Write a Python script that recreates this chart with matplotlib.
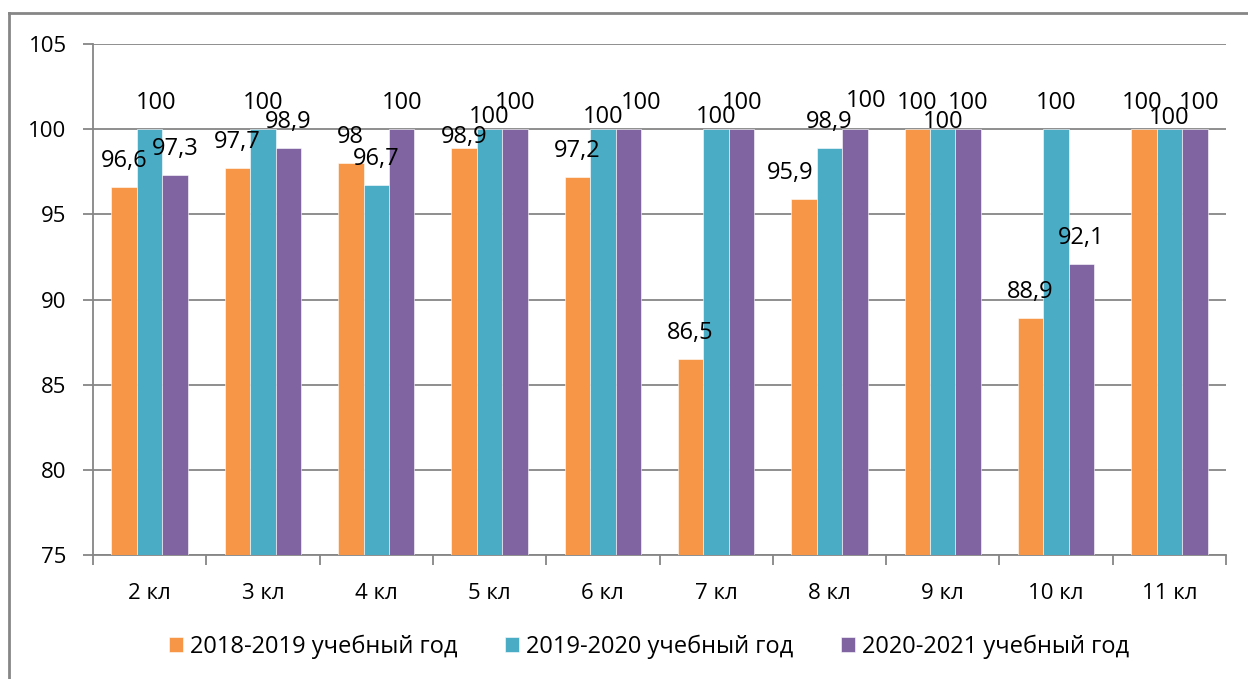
import matplotlib.pyplot as plt
import numpy as np
from matplotlib.lines import Line2D

plt.rcParams['font.family'] = ['Open Sans', 'DejaVu Sans']

# данные
classes = ['2 кл', '3 кл', '4 кл', '5 кл', '6 кл', '7 кл', '8 кл', '9 кл', '10 кл', '11 кл']
years = ['2018-2019 учебный год', '2019-2020 учебный год', '2020-2021 учебный год']
y2018 = [96.6, 97.7, 98.0, 98.9, 97.2, 86.5, 95.9, 100, 88.9, 100]
y2019 = [100, 100, 96.7, 100, 100, 100, 98.9, 100, 100, 100]
y2020 = [97.3, 98.9, 100, 100, 100, 100, 100, 100, 92.1, 100]

colors = ['#F79646', '#4BACC6', '#8064A2']
grid_col = '#868686'

# сдвиги подписей (пиксели), как в исходной диаграмме
label_shift = {
    (0, 3): (0, -15), (1, 3): (0, -14),
    (1, 4): (0, -14), (2, 4): (13, 0),
    (1, 5): (0, -14),
    (0, 6): (-14, 0), (2, 6): (11, 2),
    (1, 7): (0, -19),
    (0, 9): (-2, 0), (1, 9): (0, -15), (2, 9): (4, 0),
    (1, 0): (6, 0),
}

fig = plt.figure(figsize=(12.48, 6.79), dpi=100)
ax = fig.add_axes([93 / 1248, 1 - 555 / 679, (1226 - 93) / 1248, (555 - 44) / 679])

x = np.arange(len(classes))
w = 0.225
series = [y2018, y2019, y2020]
for k, vals in enumerate(series):
    pos = x + (k - 1) * w
    ax.bar(pos, np.array(vals) - 75, bottom=75, width=w, color=colors[k],
           edgecolor='white', linewidth=0.4, label=years[k], zorder=3)
    for i, v in enumerate(vals):
        dx, dy = label_shift.get((k, i), (0, 0))
        txt = f'{v:g}'.replace('.', ',')
        ax.annotate(txt, (pos[i], v), xytext=(dx, 26 + dy), textcoords='offset pixels',
                    ha='center', va='center', fontsize=17, zorder=4)

ax.set_xlim(-0.5, len(classes) - 0.5)
ax.set_ylim(75, 105)
ax.set_yticks(np.arange(75, 106, 5))
ax.yaxis.grid(True, color=grid_col, linewidth=1.3, zorder=0)

ax.set_xticks(x)
ax.set_xticklabels(classes)
ax.set_xticks(np.arange(-0.5, len(classes)), minor=True)
ax.tick_params(axis='x', which='major', length=0, pad=20, labelsize=16)
ax.tick_params(axis='x', which='minor', length=7, width=1.3, color=grid_col, direction='out')
ax.tick_params(axis='y', length=7, width=1.3, color=grid_col, pad=12, labelsize=16)

for s in ['top', 'right']:
    ax.spines[s].set_visible(False)
for s in ['left', 'bottom']:
    ax.spines[s].set_color(grid_col)
    ax.spines[s].set_linewidth(1.3)

# рамка области диаграммы
fig.add_artist(Line2D([9 / 1248, 9 / 1248], [0, 1 - 13 / 679], color=grid_col, lw=2,
                      transform=fig.transFigure))
fig.add_artist(Line2D([9 / 1248, 1], [1 - 13 / 679, 1 - 13 / 679], color=grid_col, lw=2,
                      transform=fig.transFigure))

fig.legend(loc='center', bbox_to_anchor=(0.52, 1 - 647 / 679), ncol=3, frameon=False,
           fontsize=17, handlelength=0.6, handleheight=0.6, handletextpad=0.3,
           columnspacing=2.0)

plt.savefig('out.png', dpi=100)
